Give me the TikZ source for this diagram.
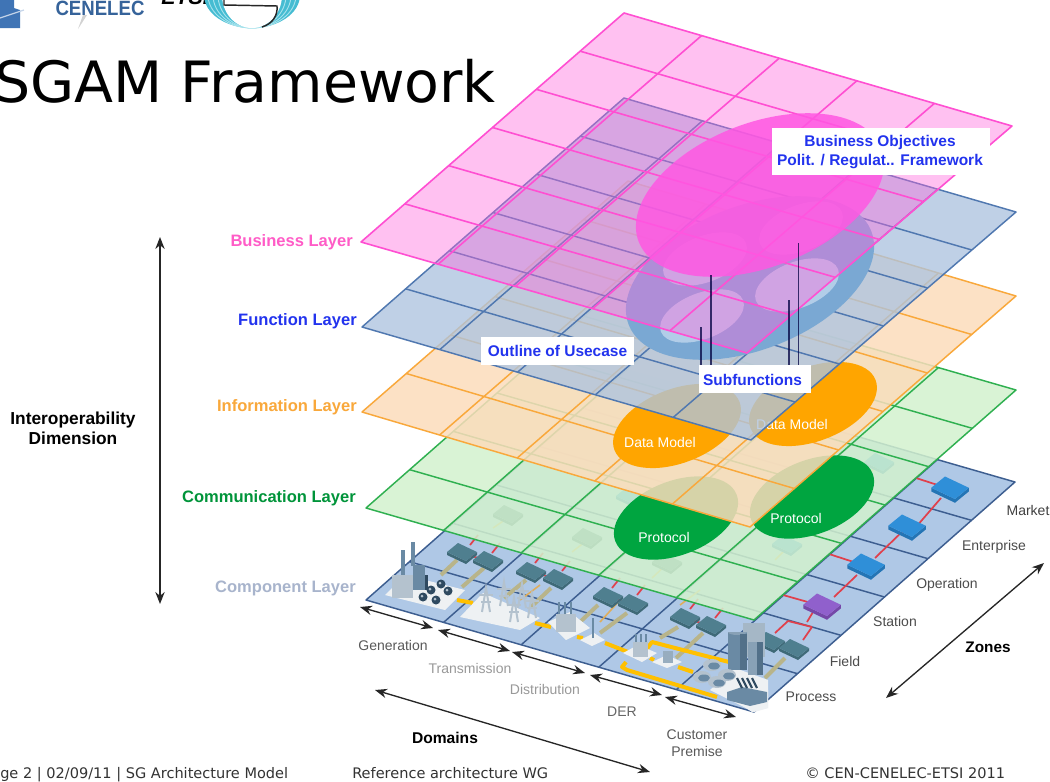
\documentclass[tikz,border=0pt]{standalone}
\usepackage{fontspec}
\setmainfont{Liberation Sans}
\newfontfamily\vfont{DejaVu Sans}
\usetikzlibrary{calc,arrows.meta}
\definecolor{pinkS}{HTML}{FF4FD2}\definecolor{pinkF}{HTML}{FF66DD}
\definecolor{blueS}{HTML}{5078B0}\definecolor{blueF}{HTML}{ADC4E0}
\definecolor{orgS}{HTML}{F9A83B}\definecolor{orgF}{HTML}{FCDCBB}
\definecolor{grnS}{HTML}{2FB050}\definecolor{grnF}{HTML}{D3F2CE}
\definecolor{cmpS}{HTML}{3D5E90}\definecolor{cmpF}{HTML}{AFC8E6}
\definecolor{labB}{HTML}{2233EE}\definecolor{compT}{HTML}{A8B4CC}
\definecolor{redL}{HTML}{E0404C}\definecolor{goldL}{HTML}{FFC000}\definecolor{tanL}{HTML}{B8B48A}
\definecolor{dataO}{HTML}{FFA500}\definecolor{protG}{HTML}{00A540}\definecolor{outl}{HTML}{7AA8D3}\definecolor{innr}{HTML}{B2CDE8}
\definecolor{tealT}{HTML}{4F7F8F}\definecolor{tealS}{HTML}{3F6A78}
\definecolor{bluT}{HTML}{2F8FD8}\definecolor{bluS}{HTML}{2475B5}
\definecolor{purT}{HTML}{9060CC}\definecolor{purS}{HTML}{7548A8}
\definecolor{baseW}{HTML}{EEF1F3}\definecolor{bldL}{HTML}{B4C2CE}\definecolor{bldM}{HTML}{6A8AA4}\definecolor{bldD}{HTML}{2F4A60}
\definecolor{logoB}{HTML}{3F74B5}\definecolor{logoT}{HTML}{45BCD2}\definecolor{logoL}{HTML}{A5E2EC}
\tikzset{
 lay/.style={inner sep=0pt,anchor=east,font=\bfseries\fontsize{12.4}{14}\selectfont},
 axis/.style={inner sep=0pt,font=\fontsize{10.5}{12.5}\selectfont,align=center},
 white label/.style={inner sep=0pt,text=white,font=\fontsize{10.5}{12}\selectfont},
 blue label/.style={fill=white,inner sep=0pt,text=labB,align=center,font=\bfseries\fontsize{11.6}{14.5}\selectfont},
 foot/.style={inner sep=0pt,anchor=base west,text=black!80,font=\vfont\fontsize{10.9}{12}\selectfont},
 dbl/.style={black!85,line width=1pt,{Stealth[length=9pt,width=7pt]}-{Stealth[length=9pt,width=7pt]}},
 redw/.style={redL,line width=1.3pt},
 goldw/.style={goldL,line width=3pt},
 tanw/.style={tanL,line width=3pt},
}
\newcommand\gridplane[5]{%
 \fill[#3,fill opacity=#4] (#1L)--(#1T)--(#1R)--(#1B)--cycle;
 \foreach \k in {1,2,3,4}{\draw[#2,line width=#5] ($(#1L)!\k/5!(#1B)$)--($(#1T)!\k/5!(#1R)$);}
 \foreach \k in {1,2,3,4,5}{\draw[#2,line width=#5] ($(#1L)!\k/6!(#1T)$)--($(#1B)!\k/6!(#1R)$);}
 \draw[#2,line width=#5,line join=round] (#1L)--(#1T)--(#1R)--(#1B)--cycle;
}
\newcommand\tiltell[6]{\fill[#1,rotate around={#6:(#2,#3)}] (#2,#3) ellipse [x radius=#4,y radius=#5];}
\newcommand\boxicon[5]{%
 \begin{scope}[shift={(#1,#2)},scale=#5]
 \fill[#4] (-15,-1)--(4,8)--(15,-1)--(15,2)--(4,11)--(-15,2)--cycle;
 \fill[#3] (-15,-1)--(-4,-10)--(15,-1)--(4,8)--cycle;
 \end{scope}}
\begin{document}
\begin{tikzpicture}[x=0.75pt,y=-0.75pt]
\useasboundingbox (0,0) rectangle (1050,782);
\clip (0,0) rectangle (1050,782);
\fill[white] (0,0) rectangle (1050,782);
\coordinate (pL) at (361,242);\coordinate (pT) at (624,13);\coordinate (pR) at (1012,126);\coordinate (pB) at (747,353);
\coordinate (bL) at (362,327);\coordinate (bT) at (624,98);\coordinate (bR) at (1016,212);\coordinate (bB) at (751,440);
\coordinate (oL) at (362,412);\coordinate (oT) at (628,181);\coordinate (oR) at (1016,296);\coordinate (oB) at (750,527);
\coordinate (gL) at (366,508);\coordinate (gT) at (628,278);\coordinate (gR) at (1016,390);\coordinate (gB) at (754,620);
\coordinate (cL) at (366,600);\coordinate (cT) at (627,370);\coordinate (cR) at (1015,482);\coordinate (cB) at (754,712);
% logos
\fill[logoB] (0,0)--(14,0)--(14,8)--(20,10)--(20,28)--(0,28)--cycle;
\draw[white!70!logoB,line width=.9pt] (0,18)--(24,10);
\fill[gray!35] (78,29)--(83,15)--(87,15)--cycle;
\node[inner sep=0pt,anchor=base,text=logoB!85!black,font=\bfseries\fontsize{15.5}{15}\selectfont,xscale=.9] (cenelec) at (100,15) {CENELEC};
\node[inner sep=0pt,anchor=base,font=\bfseries\itshape\fontsize{16}{16}\selectfont] (etsi) at (185,4) {ETSI};
\fill[logoT] (252,-5) ellipse [x radius=48,y radius=33];
\foreach \r in {44,39,34}{\draw[logoL,line width=.7pt] (252,-5) ellipse [x radius=\r,y radius=33];}
\fill[white] (252,-5) ellipse [x radius=30,y radius=33];
\draw[black!85,line width=1.1pt] (224,0)--(224,5)--(277,6) .. controls (278,16) and (272,24) .. (262,27);
% title
\node[inner sep=0pt,anchor=base west,font=\vfont\fontsize{42.7}{43}\selectfont] (title) at (-6,102) {SGAM Framework};
% interoperability
\node[inner sep=0pt,align=center,font=\bfseries\fontsize{13}{15}\selectfont] (iop) at (73,428) {Interoperability\\Dimension};
\coordinate (iA) at (160,237);\coordinate (iB) at (160,604);
\draw[dbl] (iA)--(iB);
% layer names
\node[lay,text=pinkF!90!red] (n1) at (353,242) {Business Layer};
\node[lay,text=labB] (n2) at (357,321) {Function Layer};
\node[lay,text=orgS] (n3) at (357,407) {Information Layer};
\node[lay,text=protG!90!black] (n4) at (356,498) {Communication Layer};
\node[lay,text=compT] (n5) at (356,588) {Component Layer};
% component plane
\gridplane{c}{cmpS}{cmpF}{1}{1.1pt}
% lines that run under the green plane
\foreach \a/\b/\c/\d in {493/528/512/515,572/552/590/538,652/578/668/563,775/560/790/545,865/478/880/463,520/600/540/585,600/622/620/600,680/605/700/590}{\draw[orgS!60!tanL,line width=1.2pt] (\a,\b)--(\c,\d);}
\foreach \x/\y in {508/515,587/538,667/563}{\boxicon{\x}{\y}{tealT}{tealS}{1}}
\foreach \x/\y in {631/497,787/545,879/463}{\boxicon{\x}{\y}{bluT}{bluS}{1}}
% red network
\foreach \a/\b/\c/\d in {470/545/478/535,462/553/488/561,492/553/500/543,535/563/543/553,531/572/558/579,562/571/570/561,612/588/620/578,608/597/633/604,637/595/645/585,690/609/698/599,685/618/711/626,715/618/723/608,950/489/916/478,941/498/916/527,907/527/875/558,866/566/829/554,857/575/834/597,822/606/783/595,775/633/788/621,788/621/812/627,812/627/803/640,807/622/813/612}{\draw[redw] (\a,\b)--(\c,\d);}
% tan links
\foreach \a/\b/\c/\d in {457/560/441/575,484/568/462/587,526/580/504/598,551/588/531/607,598/605/580/622,627/613/600/633,678/627/660/638,703/633/676/658,785/658/765/678}{\draw[tanw] (\a,\b)--(\c,\d);}
% gold lines
\foreach \a/\b/\c/\d in {457/600/473/603,535/623/551/627,577/637/583/638,605/643/628/652,650/658/654/660,678/667/693/672}{\draw[goldw] (\a,\b)--(\c,\d);}
\draw[goldw,line join=round] (646,650)--(652,642)--(729,662);
\draw[goldw,line join=round] (626,662)--(622,667)--(627,670)--(717,697);
% gateways
\foreach \x/\y in {462/553,488/561,531/572,558/579,608/597,633/604,685/618,711/626,770/642,794/649}{\boxicon{\x}{\y}{tealT}{tealS}{1}}
\foreach \x/\y in {950/489,907/527,866/566}{\boxicon{\x}{\y}{bluT}{bluS}{1.25}}
\boxicon{822}{606}{purT}{purS}{1.25}
% generation plant
\fill[baseW] (385,595)--(405,575)--(465,590)--(445,610)--cycle;
\fill[bldL] (392,575) rectangle (413,598);
\fill[bldM] (413,565) rectangle (425,590);
\fill[bldD] (425,575) rectangle (428,590);
\draw[bldM,line width=2.6pt] (403,550)--(403,575);
\draw[bldM,line width=2.6pt] (413,542)--(413,566);
\foreach \x/\y in {423/597,431/590,441/584,448/591,436/600}{\fill[bldD] (\x,\y) circle (4.5);\fill[bldL] (\x-1,\y-1) circle (1.5);}
% transmission
\fill[baseW] (460,617)--(483,593)--(540,618)--(520,630)--cycle;
\foreach \x/\y in {482/612,500/606,510/622,518/608,528/618}{\draw[bldL,line width=1.5pt] (\x,\y)--(\x+4,\y-24)--(\x+8,\y); \draw[bldL,line width=1pt] (\x-3,\y-17)--(\x+11,\y-17);\draw[bldL,line width=1pt] (\x-1,\y-10)--(\x+9,\y-10);}
% distribution
\fill[baseW] (548,622)--(570,612)--(590,628)--(566,640)--cycle;
\fill[bldL] (556,614) rectangle (576,632);
\foreach \x in {559,565,571}{\draw[bldM,line width=1.5pt] (\x,614)--(\x,602);}
\fill[baseW] (580,640)--(594,633)--(605,640)--(592,646)--cycle;
\draw[bldM,line width=1.3pt] (593,638)--(593,618);
% DER
\fill[baseW] (623,653)--(638,645)--(657,653)--(642,662)--cycle;
\fill[bldL] (633,642) rectangle (648,657);
\foreach \x in {636,641,646}{\draw[bldM,line width=1.4pt] (\x,642)--(\x,634);}
\fill[baseW] (652,662)--(667,655)--(682,662)--(667,668)--cycle;
\fill[bldM!70!white] (663,651) rectangle (673,663);
% customer
\fill[baseW] (710,690)--(735,668)--(768,680)--(768,708)--(754,712)--cycle;
\fill[bldL!80!bldM] (743,623) rectangle (765,657);
\fill[bldM] (728,632) rectangle (747,670);
\fill[bldM!80!white] (728,632) arc[start angle=180,end angle=0,x radius=9.5,y radius=3] -- cycle;
\fill[bldM!60!bldD] (740,634) rectangle (747,670);
\fill[bldM!80!white] (748,642) rectangle (763,675);
\fill[bldM!60!bldD] (757,642) rectangle (763,675);
\foreach \x/\y in {702/677,712/665,717/682,727/675}{\fill[bldL] (\x,\y) ellipse [x radius=9,y radius=6];\fill[bldM] (\x+2,\y+1) ellipse [x radius=6,y radius=3.5];}
\fill[baseW] (722,692)--(745,678)--(768,690)--(768,708)--(752,712)--cycle;
\fill[bldM] (727,692)--(742,687)--(767,692)--(767,702)--(750,706)--(727,700)--cycle;
\foreach \x in {737,742,747,752}{\draw[bldD,line width=1.6pt] (\x,678)--(\x+5,688);}
% communication plane
\gridplane{g}{grnS}{grnF}{.85}{1.1pt}
\tiltell{protG}{676}{518}{65}{37}{21}
\tiltell{protG}{812}{497}{65}{37}{21}
\node[white label] (pr1) at (664,537) {Protocol};
\node[white label] (pr2) at (796,518) {Protocol};
% information plane
\gridplane{o}{orgS}{orgF}{.85}{1.1pt}
\tiltell{dataO}{677}{426}{67}{37}{21}
\tiltell{dataO}{813}{404}{67}{37}{21}
\node[white label] (dm1) at (660,442) {Data Model};
\node[white label] (dm2) at (792,424) {Data Model};
% function plane
\gridplane{b}{blueS}{blueF}{.78}{1.1pt}
\tiltell{outl}{750}{278}{130}{72}{21}
\foreach \x/\y in {705/259,702/316,801/228,797/285}{\tiltell{innr}{\x}{\y}{44}{23}{21}}
\coordinate (v1a) at (701,327);\coordinate (v1b) at (701,365);
\coordinate (v2a) at (711,275);\coordinate (v2b) at (711,365);
\coordinate (v3a) at (789,300);\coordinate (v3b) at (789,365);
\coordinate (v4a) at (798.5,243);\coordinate (v4b) at (798.5,365);
% business plane
\gridplane{p}{pinkS}{pinkF}{.4}{1.2pt}
\tiltell{pinkF!85!magenta,fill opacity=.85}{760}{195}{130}{72}{21}
\draw[black!75!blue,line width=1.2pt,opacity=.75] (v1a)--(v1b) (v2a)--(v2b) (v3a)--(v3b) (v4a)--(v4b);
% captions
\fill[white] (772,128) rectangle (990,175);
\node[blue label] (bo) at (880,152) {Business Objectives\\Polit. / Regulat.. Framework};
\fill[white] (481,337) rectangle (634,365);
\node[blue label] (ou) at (557.5,351) {Outline of Usecase};
\fill[white] (699,365) rectangle (811,393);
\node[blue label] (sf) at (752.5,380) {Subfunctions};
% domains
\node[axis,text=black!65] (d1) at (393,645) {Generation};
\node[axis,text=black!40] (d2) at (470,668) {Transmission};
\node[axis,text=black!40] (d3) at (545,689) {Distribution};
\node[axis,text=black!60] (d4) at (622,712) {DER};
\node[axis,text=black!65] (d5) at (697,743) {Customer\\Premise};
\coordinate (a0) at (360,607);\coordinate (a1) at (433,628);\coordinate (a2) at (438,630);\coordinate (a3) at (510,651);\coordinate (a4) at (512,652);\coordinate (a5) at (585,673);\coordinate (a6) at (590,675);\coordinate (a7) at (662,695);\coordinate (a8) at (665,697);\coordinate (a9) at (736,717);
\foreach \p/\q in {a0/a1,a2/a3,a4/a5,a6/a7,a8/a9}{\draw[dbl] (\p)--(\q);}
\coordinate (dA) at (375,690);\coordinate (dB) at (650,772);
\draw[dbl] (dA)--(dB);
\node[inner sep=0pt,font=\bfseries\fontsize{11.7}{12}\selectfont] (dom) at (445,738) {Domains};
% zones
\node[axis,text=black!75] (z1) at (1028,510) {Market};
\node[axis,text=black!70] (z2) at (994,547) {Enterprise};
\node[axis,text=black!70] (z3) at (947,585) {Operation};
\node[axis,text=black!70] (z4) at (895,621) {Station};
\node[axis,text=black!70] (z5) at (845,661) {Field};
\node[axis,text=black!70] (z6) at (811,697) {Process};
\coordinate (zA) at (886,698);\coordinate (zB) at (1044,563);
\draw[dbl] (zA)--(zB);
\node[inner sep=0pt,font=\bfseries\fontsize{11.5}{12}\selectfont] (zon) at (988,647) {Zones};
% footer
\node[foot] (f1) at (0,778) {ge 2 | 02/09/11 | SG Architecture Model};
\node[foot] (f2) at (352,778) {Reference architecture WG};
\node[foot] (f3) at (805,778) {© CEN-CENELEC-ETSI 2011};
\end{tikzpicture}
\end{document}
